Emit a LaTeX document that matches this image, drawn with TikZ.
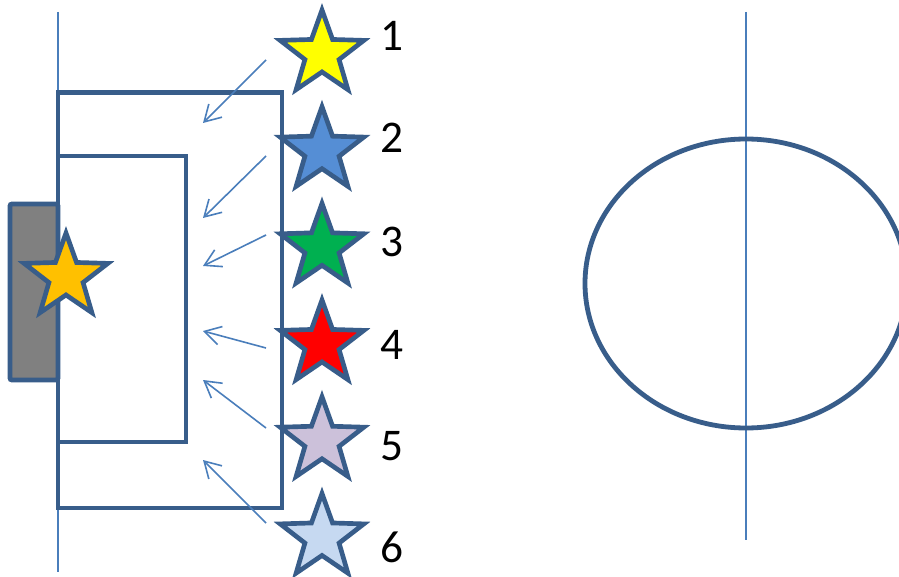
\documentclass[tikz,border=0pt]{standalone}
\usepackage{fontspec}
\setmainfont{Carlito}
\usetikzlibrary{shapes.geometric,arrows.meta}
\definecolor{dblue}{HTML}{385D8A}
\definecolor{lblue}{HTML}{4A7EBB}
\definecolor{sgray}{HTML}{808080}
\definecolor{sorange}{HTML}{FFC000}
\definecolor{syellow}{HTML}{FFFF00}
\definecolor{sblue}{HTML}{558ED5}
\definecolor{sgreen}{HTML}{00B050}
\definecolor{sred}{HTML}{FF0000}
\definecolor{slav}{HTML}{CCC1DA}
\definecolor{slight}{HTML}{C6D9F1}
\tikzset{
  starshape/.style={star, star points=5, star point ratio=2.45, minimum size=66pt,
    inner sep=0pt, draw=dblue, line width=3.5pt},
  thick border/.style={draw=dblue, line width=3.6pt},
  thinline/.style={draw=lblue, line width=1.5pt},
  arr/.style={draw=lblue, line width=1.2pt, -{Straight Barb[length=12pt,width=14pt]}},
  lbl/.style={font=\fontsize{34}{36}\selectfont, inner sep=0pt, anchor=center}
}
\begin{document}
\begin{tikzpicture}[x=0.75pt,y=-0.75pt]
\clip (0,0) rectangle (899,577);
\fill[white] (0,0) rectangle (899,577);
% gray block
\path[thick border, fill=sgray, rounded corners=1.5pt] (10,204) rectangle (58,380);
% left axis line
\coordinate (lt) at (58,12);
\coordinate (lb) at (58,572);
\draw[thinline] (lt) -- (lb);
% rectangles
\path[thick border] (58,92.5) rectangle (282,508);
\path[thick border] (58,156) rectangle (186,442);
% arrows
\coordinate (s1) at (266,60);  \coordinate (e1) at (203,123);
\coordinate (s2) at (266,156); \coordinate (e2) at (203,218);
\coordinate (s3) at (266,235); \coordinate (e3) at (203,266);
\coordinate (s4) at (266,348); \coordinate (e4) at (203,331);
\coordinate (s5) at (266,428); \coordinate (e5) at (203,380);
\coordinate (s6) at (266,523); \coordinate (e6) at (203,460);
\foreach \i in {1,...,6} {\draw[arr] (s\i) -- (e\i);}
% stars
\node[starshape, fill=sorange] (st0) at (66,277) {};
\node[starshape, fill=syellow] (st1) at (322,54) {};
\node[starshape, fill=sblue]   (st2) at (322,150.7) {};
\node[starshape, fill=sgreen]  (st3) at (322,247.4) {};
\node[starshape, fill=sred]    (st4) at (322,344) {};
\node[starshape, fill=slav]    (st5) at (322,440.8) {};
\node[starshape, fill=slight]  (st6) at (322,537.5) {};
% labels
\node[lbl] (n1) at (392,36) {1};
\node[lbl] (n2) at (392,138) {2};
\node[lbl] (n3) at (392,242) {3};
\node[lbl] (n4) at (392,345) {4};
\node[lbl] (n5) at (392,446) {5};
\node[lbl] (n6) at (392,547) {6};
% right side
\coordinate (rt) at (746,12);
\coordinate (rb) at (746,540);
\draw[thinline] (rt) -- (rb);
\draw[thick border] (746,283.5) ellipse [x radius=161, y radius=144.5];
\end{tikzpicture}
\end{document}
